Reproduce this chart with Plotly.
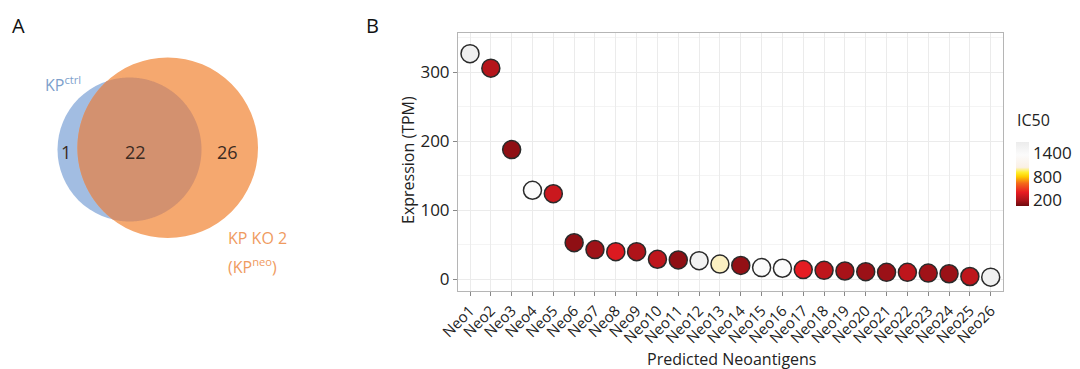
import numpy as np
import plotly.graph_objects as go

# ---------------- data ----------------
neoantigens = [f"Neo{i}" for i in range(1, 27)]
expression_tpm = [327, 306, 188, 129, 124, 53, 43, 40, 40, 29, 28, 27, 22,
                  20, 17, 16, 14, 13, 12, 11, 10, 10, 9, 8, 4, 3]
ic50 = [1600, 230, 130, 1350, 300, 130, 170, 360, 210, 260, 130, 1550, 1010,
        140, 1350, 1350, 390, 260, 190, 160, 160, 260, 170, 160, 260, 1600]
venn_counts = [1, 22, 26]   # ctrl only, shared, neo only
ic50_ticks = [200, 800, 1400]

# page has an 8px body margin; figure sized to fit the 1080x369 window
OFF = 8
W, H = 1080 - OFF, 369 - OFF
FONT = "Open Sans"


def px(x):
    return (x - OFF) / W


def py(y):
    return (H - (y - OFF)) / H


colorscale = [
    [0.0, "#6e0a0e"],
    [0.092, "#ac141a"],
    [0.215, "#e81c22"],
    [0.356, "#f46a1a"],
    [0.46, "#ffcf00"],
    [0.527, "#fff030"],
    [0.604, "#faf0e6"],
    [0.8, "#fbfbfb"],
    [1.0, "#ececec"],
]

fig = go.Figure()
fig.add_trace(go.Scatter(
    x=neoantigens, y=expression_tpm, mode="markers",
    marker=dict(
        size=18, color=ic50, colorscale=colorscale, cmin=50, cmax=1680,
        line=dict(color="#2a2a2a", width=1.5),
        colorbar=dict(
            tickvals=ic50_ticks, ticks="", outlinewidth=0,
            thickness=13, thicknessmode="pixels",
            len=64, lenmode="pixels",
            x=px(1016), xanchor="left", y=py(174), yanchor="middle",
            tickfont=dict(family=FONT, size=17, color="#222"),
            ypad=0, xpad=0,
        ),
    ),
    showlegend=False,
))

fig.update_xaxes(
    domain=[px(458), px(1003)], range=[-0.576, 25.59],
    showgrid=True, gridcolor="#ebebeb", gridwidth=1,
    showline=True, linecolor="#b5b5b5", linewidth=1, mirror=True,
    ticks="outside", ticklen=4, tickcolor="#888",
    tickangle=-45, tickfont=dict(family=FONT, size=15, color="#222"),
    zeroline=False, automargin=False,
)
fig.update_yaxes(
    domain=[py(291), py(33)], range=[-17, 357],
    tickvals=[0, 100, 200, 300],
    showgrid=True, gridcolor="#ebebeb", gridwidth=1,
    minor=dict(dtick=50, tick0=0, showgrid=True, gridcolor="#f4f4f4"),
    showline=True, linecolor="#b5b5b5", linewidth=1, mirror=True,
    ticks="outside", ticklen=4, tickcolor="#888",
    tickfont=dict(family=FONT, size=17, color="#222"),
    zeroline=False, automargin=False,
)

# ---------------- Venn (panel A) ----------------
c1, r1 = np.array([129.5, 149.5]), 72.0
c2, r2 = np.array([167.7, 147.8]), 90.3
shapes = [
    dict(type="circle", xref="paper", yref="paper",
         x0=px(c1[0] - r1), x1=px(c1[0] + r1), y0=py(c1[1] + r1), y1=py(c1[1] - r1),
         fillcolor="#a2bde2", line=dict(width=0), layer="below"),
    dict(type="circle", xref="paper", yref="paper",
         x0=px(c2[0] - r2), x1=px(c2[0] + r2), y0=py(c2[1] + r2), y1=py(c2[1] - r2),
         fillcolor="#f5a86f", line=dict(width=0), layer="below"),
]
d = c2 - c1
phi = np.arctan2(d[1], d[0])
t = np.linspace(-np.pi, np.pi, 721)
pb = c1[None, :] + r1 * np.stack([np.cos(phi + t), np.sin(phi + t)], axis=1)
pb = pb[np.linalg.norm(pb - c2, axis=1) <= r2]
po = c2[None, :] + r2 * np.stack([np.cos(phi + np.pi + t), np.sin(phi + np.pi + t)], axis=1)
po = po[np.linalg.norm(po - c1, axis=1) <= r1]
lens = np.vstack([pb, po])
path = "M " + " L ".join(f"{px(x):.5f},{py(y):.5f}" for x, y in lens) + " Z"
shapes.append(dict(type="path", xref="paper", yref="paper", path=path,
                   fillcolor="#d3916f", line=dict(width=0), layer="below"))


def text(s, x, y, size, color, xanchor="center", angle=0):
    return dict(text=s, x=px(x), y=py(y), xref="paper", yref="paper",
                showarrow=False, xanchor=xanchor, yanchor="middle", textangle=angle,
                font=dict(family=FONT, size=size, color=color))


ann = []
num_col = "#3b2b22"
for val, x in zip(venn_counts, [66, 135, 227]):
    ann.append(text(str(val), x, 152, 18, num_col))
ann.append(text("KP<sup>ctrl</sup>", 43, 84, 16, "#7d9fcc", xanchor="left"))
ann.append(text("KP KO 2", 226, 238, 16, "#ef9b5f", xanchor="left"))
ann.append(text("(KP<sup>neo</sup>)", 226, 266, 16, "#ef9b5f", xanchor="left"))
ann.append(text("A", 18, 26, 20, "#111"))
ann.append(text("B", 372, 26, 20, "#111"))
ann.append(text("Expression (TPM)", 408, 160, 16, "#222", angle=-90))
ann.append(text("Predicted Neoantigens", 731, 359, 16, "#222"))
ann.append(text("IC50", 1015, 120, 16, "#222", xanchor="left"))

fig.update_layout(
    width=W, height=H, margin=dict(l=0, r=0, t=0, b=0),
    paper_bgcolor="white", plot_bgcolor="white",
    shapes=shapes, annotations=ann,
    font=dict(family=FONT),
)

fig.write_html("out.html")
